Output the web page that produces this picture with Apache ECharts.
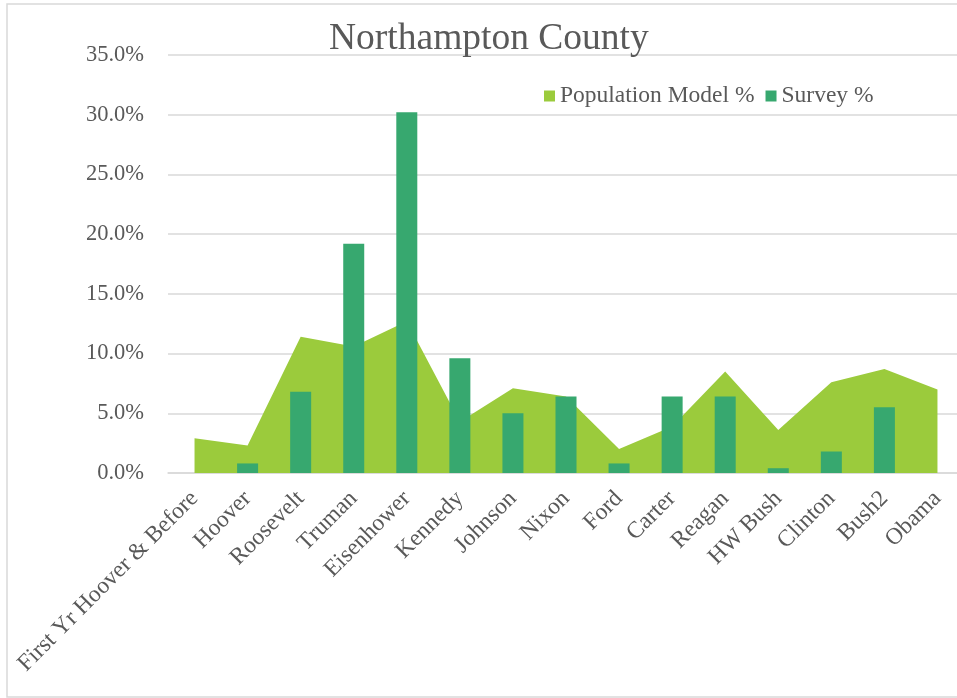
<!DOCTYPE html>
<html>
<head>
<meta charset="utf-8">
<script src="https://cdn.jsdelivr.net/npm/echarts@6/dist/echarts.min.js"></script>
<style>
html,body{margin:0;padding:0;background:#fff;overflow:hidden;width:957px;height:698px;}
#c{width:972px;height:698px;}
</style>
</head>
<body>
<div id="c"></div>
<script>
var categories = ["First Yr Hoover & Before","Hoover","Roosevelt","Truman","Eisenhower","Kennedy","Johnson","Nixon","Ford","Carter","Reagan","HW Bush","Clinton","Bush2","Obama"];
var populationModel = [2.9, 2.3, 11.4, 10.6, 12.7, 4.3, 7.1, 6.4, 2.0, 3.9, 8.5, 3.6, 7.6, 8.7, 7.0];
var survey = [null, 0.8, 6.8, 19.2, 30.2, 9.6, 5.0, 6.4, 0.8, 6.4, 6.4, 0.4, 1.8, 5.5, null];
var yTicks = {min: 0, max: 35, interval: 5};

var font = "'Liberation Serif','Times New Roman',serif";
var txt = '#595959';
var chart = echarts.init(document.getElementById('c'));
chart.setOption({
  animation: false,
  backgroundColor: '#fff',
  graphic: [{type:'rect', shape:{x:7,y:4,width:980,height:693}, style:{fill:'none', stroke:'#D9D9D9', lineWidth:1.5}, silent:true, z:-1}],
  title: {text: 'Northampton County', left: 324, top: 15, textStyle:{fontFamily:font, fontSize:37.5, fontWeight:'normal', color:txt}},
  legend: {left: 539, top: 79, icon:'rect', itemWidth:11, itemHeight:11, itemGap:11, textStyle:{fontFamily:font, fontSize:23.5, color:txt}, data:['Population Model %','Survey %']},
  grid: {left: 168, right: 8, top: 55, bottom: 225, containLabel:false},
  xAxis: {type:'category', data: categories, boundaryGap:true,
    axisLine:{show:true, lineStyle:{color:'#D9D9D9', width:1.5}}, axisTick:{show:false},
    axisLabel:{rotate:45, interval:0, margin:22, fontFamily:font, fontSize:23.5, color:txt}},
  yAxis: {type:'value', min:yTicks.min, max:yTicks.max, interval:yTicks.interval,
    axisLine:{show:false}, axisTick:{show:false},
    splitLine:{lineStyle:{color:'#D9D9D9', width:1.5}},
    axisLabel:{margin:24, fontFamily:font, fontSize:22.5, color:txt, formatter:function(v){return v.toFixed(1)+'%';}}},
  series: [
    {name:'Population Model %', type:'line', data: populationModel, symbol:'none', color:'#9BCB3C',
     lineStyle:{width:0}, areaStyle:{color:'#9BCB3C', opacity:1}, z:2},
    {name:'Survey %', type:'bar', data: survey, barWidth:21, color:'#37A86F', itemStyle:{color:'#37A86F'}, z:3}
  ]
});
</script>
</body>
</html>
